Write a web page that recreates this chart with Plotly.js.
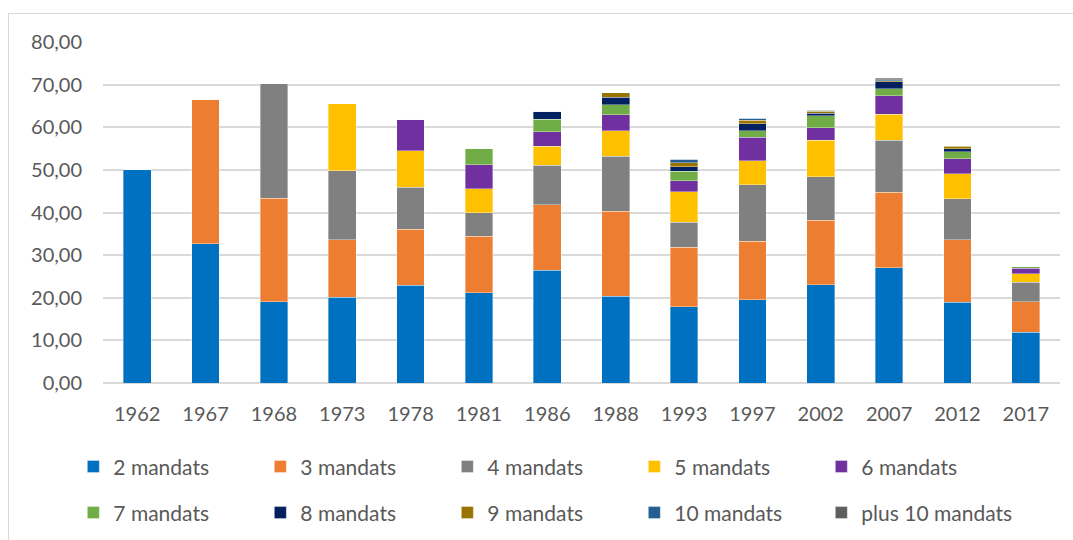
<!DOCTYPE html>
<html>
<head>
<meta charset="utf-8">
<script src="https://cdn.plot.ly/plotly-3.0.1.min.js"></script>
<style>
  html, body { margin: 0; padding: 0; background: #ffffff; }
  #chart { width: 1073px; height: 540px; position: absolute; left: 0; top: 0; }
  #frame { position: absolute; left: 8px; top: 13px; width: 1200px; height: 700px;
           border: 1px solid #d9d9d9; pointer-events: none; }
</style>
</head>
<body>
<div id="chart"></div>
<div id="frame"></div>
<script>
// Categories (election years)
const years = ['1962','1967','1968','1973','1978','1981','1986','1988','1993','1997','2002','2007','2012','2017'];

// Series values (percent)
const m2  = [50.1, 32.7, 19.1, 20.1, 22.9, 21.2, 26.5, 20.4, 17.9, 19.5, 23.0, 27.0, 18.9, 11.9];
const m3  = [0,    33.8, 24.3, 13.5, 13.2, 13.2, 15.3, 19.9, 14.0, 13.8, 15.2, 17.7, 14.7, 7.2];
const m4  = [0,    0,    26.8, 16.2, 9.8,  5.6,  9.3,  12.9, 5.8,  13.2, 10.2, 12.2, 9.6,  4.5];
const m5  = [0,    0,    0,    15.8, 8.6,  5.6,  4.4,  6.0,  7.2,  5.6,  8.6,  6.2,  5.9,  2.0];
const m6  = [0,    0,    0,    0,    7.4,  5.6,  3.5,  3.7,  2.5,  5.5,  2.9,  4.3,  3.5,  1.3];
const m7  = [0,    0,    0,    0,    0,    3.9,  2.9,  2.4,  2.3,  1.6,  2.8,  1.6,  1.7,  0.4];
const m8  = [0,    0,    0,    0,    0,    0,    1.9,  1.7,  1.0,  1.6,  0.6,  1.7,  0.7,  0];
const m9  = [0,    0,    0,    0,    0,    0,    0,    1.1,  1.0,  0.8,  0.4,  0.2,  0.5,  0];
const m10 = [0,    0,    0,    0,    0,    0,    0,    0,    0.8,  0.5,  0.3,  0.3,  0.2,  0];
const mPlus10 = [0, 0,   0,    0,    0,    0,    0,    0,    0,    0,    0,    0.3,  0,    0];

const seriesNames = ['2 mandats','3 mandats','4 mandats','5 mandats','6 mandats',
                     '7 mandats','8 mandats','9 mandats','10 mandats','plus 10 mandats'];
const seriesValues = [m2, m3, m4, m5, m6, m7, m8, m9, m10, mPlus10];
const seriesColors = ['#0070C0','#ED7D31','#808080','#FFC000','#7030A0',
                      '#70AD47','#002060','#997300','#255E91','#5E5E5E'];

const traces = seriesNames.map((name, i) => {
  const t = {
    type: 'bar',
    name: name,
    x: years,
    y: seriesValues[i],
    marker: { color: seriesColors[i], line: { color: 'rgba(255,255,255,0.6)', width: 0.6 } },
    legend: i < 5 ? 'legend' : 'legend2',
    hoverinfo: 'x+y+name'
  };
  if (i === seriesNames.length - 1) t.legendwidth = 175;
  return t;
});

const FONT = 'Lato, "Open Sans", sans-serif';
const TXT = '#595959';

const legendCommon = {
  orientation: 'h',
  xanchor: 'left',
  yanchor: 'middle',
  x: -0.031,
  entrywidth: 142,
  entrywidthmode: 'pixels',
  font: { family: FONT, size: 21, color: TXT },
  bgcolor: 'rgba(0,0,0,0)',
  traceorder: 'normal',
  itemclick: false,
  itemdoubleclick: false
};

const layout = {
  width: 1073,
  height: 540,
  margin: { l: 103, r: 13, t: 42, b: 157, pad: 0, autoexpand: false },
  paper_bgcolor: '#ffffff',
  plot_bgcolor: '#ffffff',
  barmode: 'stack',
  bargap: 0.595,
  separators: ', ',
  font: { family: FONT, size: 20, color: TXT },
  xaxis: {
    type: 'category',
    tickfont: { family: FONT, size: 20, color: TXT },
    showgrid: false,
    showline: false,
    ticks: '',
    ticklabelstandoff: 17,
    fixedrange: true
  },
  yaxis: {
    range: [0, 80],
    dtick: 10,
    tick0: 0,
    tickformat: '.2f',
    tickfont: { family: FONT, size: 20, color: TXT },
    showgrid: true,
    gridcolor: '#d9d9d9',
    gridwidth: 1.5,
    zeroline: true,
    zerolinecolor: '#d9d9d9',
    zerolinewidth: 1.5,
    showline: false,
    ticks: '',
    ticklabelstandoff: 20,
    fixedrange: true
  },
  legend: Object.assign({}, legendCommon, { y: -0.246 }),
  legend2: Object.assign({}, legendCommon, { y: -0.381 }),
  showlegend: true
};

Plotly.newPlot('chart', traces, layout, { displayModeBar: false, staticPlot: false });
</script>
</body>
</html>
